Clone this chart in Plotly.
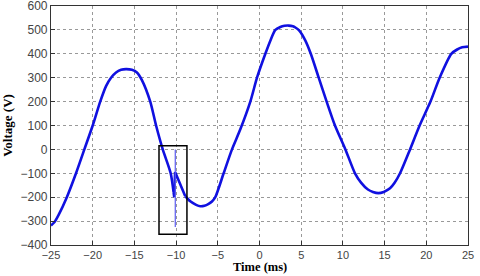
import plotly.graph_objects as go

# voltage waveform (time in ms, voltage in V)
time_ms = [-25, -24.6, -24.1, -23.1, -22.0, -21.0, -20.0, -19.1, -18.4, -17.8,
           -17.2, -16.6, -16.0, -15.3, -14.7, -14.1, -13.1, -12.4, -11.6, -10.65,
           -10.3, -10.22, -10.12, -9.5, -8.9, -8.3, -7.6, -7.1, -6.6, -6.1,
           -5.7, -5.3, -4.3, -3.3, -2.3, -1.1, -0.3, 0.7, 1.3, 1.9, 2.5,
           3.0, 3.5, 4.0, 4.3, 4.8, 5.5, 6.15, 7.1, 8.05, 9.05, 10.3,
           11.45, 12.2, 13.0, 13.6, 14.25, 14.9, 15.65, 16.2, 16.85, 18.05,
           19.2, 20.5, 21.6, 23.0, 23.7, 24.3, 25]
voltage = [-318, -305, -275, -200, -100, 0, 100, 200, 265, 300,
           322, 333, 336, 333, 322, 290, 200, 100, 0, -100,
           -180, -200, -95, -150, -196, -217, -232, -238, -236, -228,
           -218, -200, -100, 0, 84, 200, 300, 400, 455, 500, 512,
           517, 518, 515, 510, 496, 455, 400, 300, 200, 100, 0,
           -100, -140, -168, -178, -183, -178, -163, -140, -100, 0,
           100, 200, 300, 400, 418, 427, 430]

# the transient part of the waveform is drawn with straight segments
spike_start, spike_end = 20, 24

# thin transient spike and the highlight box around it
spike_t = [-10.1, -10.1]
spike_v = [0, -325]
box_t = [-12.05, -8.7]
box_v = [-355, 15]

fig = go.Figure()

main_line = dict(color='#1010e0', width=2.6)
segments = [
    (0, spike_start + 1, 'spline'),
    (spike_start, spike_end + 1, 'linear'),
    (spike_end, len(time_ms), 'spline'),
]
for a, b, shape in segments:
    fig.add_trace(go.Scatter(
        x=time_ms[a:b], y=voltage[a:b], mode='lines',
        line=dict(shape=shape, smoothing=0.7, **main_line),
        showlegend=False,
    ))

fig.add_trace(go.Scatter(
    x=spike_t, y=spike_v, mode='lines',
    line=dict(color='#5a5af0', width=1.2),
    showlegend=False,
))

fig.add_shape(
    type='rect', xref='x', yref='y',
    x0=box_t[0], x1=box_t[1], y0=box_v[0], y1=box_v[1],
    line=dict(color='black', width=1.5),
)

axis_style = dict(
    showline=True, linecolor='#333333', linewidth=1.2, mirror=True,
    showgrid=True, gridcolor='#999999', griddash='dot', gridwidth=1,
    ticks='inside', ticklen=4, tickcolor='#333333',
    zeroline=False, automargin=False, ticklabeloverflow='allow',
    tickfont=dict(family='Liberation Sans, Arial', size=12, color='#444444'),
)
title_font = dict(family='Liberation Serif, Times New Roman', size=13, color='black')

fig.update_xaxes(range=[-25, 25], dtick=5, **axis_style)
fig.update_xaxes(tickfont_size=11)
fig.update_yaxes(
    range=[-400, 600], dtick=100,
    title=dict(text='<b>Voltage (V)</b>', standoff=5, font=title_font),
    **axis_style
)

# x title as an annotation so it sits just under the tick labels
fig.add_annotation(
    text='<b>Time (ms)</b>', xref='paper', yref='paper',
    x=0.5, y=-0.129, xanchor='center', yanchor='bottom',
    showarrow=False, font=dict(title_font, size=12.5),
)

fig.update_layout(
    width=480, height=276,
    margin=dict(l=51, r=12, t=6, b=31),
    plot_bgcolor='white', paper_bgcolor='white',
)

fig.write_html("out.html", config={'displayModeBar': False},
               post_script="document.body.style.margin='0';")
